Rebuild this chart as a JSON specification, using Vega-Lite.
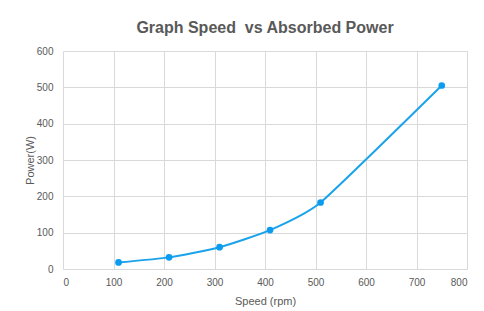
{
  "$schema": "https://vega.github.io/schema/vega-lite/v6.json",
  "width": 404,
  "height": 218,
  "autosize": "none",
  "padding": {"left": 63, "top": 51, "right": 17, "bottom": 42},
  "background": "white",
  "title": {
    "text": "Graph Speed\u00a0 vs Absorbed Power",
    "font": "Liberation Sans",
    "fontSize": 16,
    "fontWeight": "bold",
    "color": "#595959",
    "anchor": "middle",
    "offset": 10
  },
  "config": {
    "view": {"stroke": null},
    "axis": {
      "labelFont": "Liberation Sans",
      "titleFont": "Liberation Sans",
      "labelColor": "#595959",
      "titleColor": "#595959",
      "labelFontSize": 10,
      "titleFontSize": 11,
      "titleFontWeight": "normal",
      "gridColor": "#d9d9d9",
      "ticks": false,
      "domain": false,
      "labelOverlap": false
    }
  },
  "data": {
    "values": [
      {"speed": 110, "power": 18},
      {"speed": 210, "power": 32},
      {"speed": 310, "power": 60},
      {"speed": 410, "power": 107},
      {"speed": 510, "power": 183},
      {"speed": 750, "power": 505}
    ]
  },
  "encoding": {
    "x": {
      "field": "speed",
      "type": "quantitative",
      "scale": {"domain": [0, 800], "nice": false},
      "axis": {"title": "Speed (rpm)", "values": [0,100,200,300,400,500,600,700,800], "labelPadding": 8, "titlePadding": 8}
    },
    "y": {
      "field": "power",
      "type": "quantitative",
      "scale": {"domain": [0, 600], "nice": false},
      "axis": {"title": "Power(W)", "values": [0,100,200,300,400,500,600], "labelPadding": 10, "titlePadding": 1}
    }
  },
  "layer": [
    {
      "mark": {"type": "line", "interpolate": "cardinal", "tension": 0.5, "color": "#1aa3ea", "strokeWidth": 2}
    },
    {
      "mark": {"type": "point", "filled": true, "shape": "circle", "size": 45, "color": "#0b9cf0", "opacity": 1}
    }
  ]
}
